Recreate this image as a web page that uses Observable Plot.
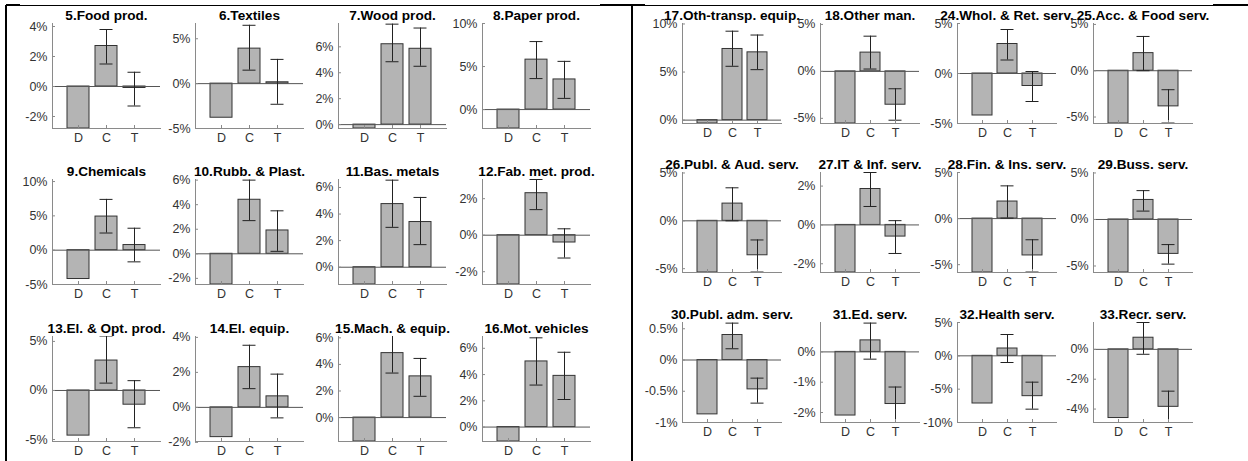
<!DOCTYPE html>
<html><head><meta charset="utf-8">
<script src="https://cdn.jsdelivr.net/npm/d3@7"></script>
<script src="https://cdn.jsdelivr.net/npm/@observablehq/plot@0.6"></script>
<style>
html,body{margin:0;padding:0;background:#fff;}
#root{position:relative;width:1248px;height:461px;overflow:hidden;font-family:"Liberation Sans",Arial,Helvetica,sans-serif;}
.cell{position:absolute;}
.border{position:absolute;background:#000;}
</style></head><body><div id="root"></div>
<script>
// ---------- data ----------
const titles = ["5.Food prod.","6.Textiles","7.Wood prod.","8.Paper prod.",
  "9.Chemicals","10.Rubb. & Plast.","11.Bas. metals","12.Fab. met. prod.",
  "13.El. & Opt. prod.","14.El. equip.","15.Mach. & equip.","16.Mot. vehicles",
  "17.Oth-transp. equip.","18.Other man.","24.Whol. & Ret. serv.","25.Acc. & Food serv.",
  "26.Publ. & Aud. serv.","27.IT & Inf. serv.","28.Fin. & Ins. serv.","29.Buss. serv.",
  "30.Publ. adm. serv.","31.Ed. serv.","32.Health serv.","33.Recr. serv."];
const categories = ["D","C","T"];
const valD = [-2.8,-3.8,-0.3,-2.2, -4.2,-2.5,-1.3,-2.7, -4.6,-1.7,-1.8,-1.1,
              -0.35,-5.55,-4.2,-5.7, -5.4,-2.45,-5.85,-5.7, -0.87,-2.1,-7.15,-4.6];
const valC = [2.7,3.9,6.2,5.8, 4.9,4.4,4.75,2.3, 3.05,2.3,4.85,5.0,
              7.4,2.0,2.95,1.9, 1.8,1.85,1.85,2.1, 0.4,0.38,1.1,0.78];
const loC  = [1.5,1.5,4.85,3.6, 2.5,2.7,3.0,1.4, 0.75,1.07,3.35,3.2,
              5.6,0.25,1.35,0.0, 0.0,0.95,0.05,0.9, 0.18,-0.24,-1.0,-0.33];
const hiC  = [3.8,6.5,7.75,7.9, 7.4,6.0,6.55,3.05, 5.55,3.55,6.2,6.8,
              9.25,3.75,4.4,3.7, 3.45,2.7,3.55,3.1, 0.59,0.95,3.2,1.8];
const valT = [-0.1,0.15,5.85,3.5, 0.75,1.9,3.4,-0.4, -1.45,0.63,3.1,3.9,
              7.05,-3.55,-1.25,-3.85, -3.6,-0.6,-4.0,-3.7, -0.47,-1.72,-6.05,-3.85];
const loT  = [-1.3,-2.3,4.5,1.3, -1.7,0.2,1.7,-1.25, -3.8,-0.6,1.6,2.1,
              5.25,-5.2,-2.8,-5.65, -5.35,-1.47,-5.8,-4.8, -0.69,-2.33,-8.0,-4.9];
const hiT  = [0.95,2.7,7.45,5.6, 3.2,3.5,5.25,0.35, 1.0,1.9,4.45,5.7,
              8.85,-1.85,0.2,-2.05, -2.0,0.22,-2.3,-2.7, -0.29,-1.16,-3.95,-2.8];
const yMin = [-2.8,-5,-0.3,-2.2, -5,-2.5,-1.3,-2.7, -5.2,-1.95,-1.8,-1.1,
              -0.35,-5.55,-5,-5.7, -5.4,-2.45,-5.85,-5.7, -1.0,-2.33,-10,-4.9];
const yMax = [4.2,6.7,7.8,10, 10.3,6.05,6.6,3.05, 5.5,4.05,6.1,6.9,
              10.05,5.1,5,5.1, 5.05,2.7,5,5.05, 0.6,0.97,5,1.8];
const yTicks = [[-2,0,2,4],[-5,0,5],[0,2,4,6],[0,5,10],
  [-5,0,5,10],[-2,0,2,4,6],[0,2,4,6],[-2,0,2],
  [-5,0,5],[-2,0,2,4],[0,2,4,6],[0,2,4,6],
  [0,5,10],[-5,0,5],[-5,0,5],[-5,0,5],
  [-5,0,5],[-2,0,2],[-5,0,5],[-5,0,5],
  [-1,-0.5,0,0.5],[-2,-1,0],[-10,-5,0,5],[-4,-2,0]];

// ---------- layout ----------
const leftCols = [52,195,338,482], rightCols = [682,820,957,1093];
const leftRows = [23,179,336], rightRows = [23,172,322];
const leftW = 108, leftH = 105, rightW = 99, rightH = 100;
const mL = 46, mR = 10, mT = 26, mB = 24;
const font = '"Liberation Sans", Arial, Helvetica, sans-serif';
const fmt = d => String(d) + "%";
const root = document.getElementById("root");

titles.forEach((title, i) => {
  const right = i >= 12, j = i % 12, r = Math.floor(j / 4), c = j % 4;
  const ax = right ? rightCols[c] : leftCols[c];
  const ay = right ? rightRows[r] : leftRows[r];
  const w = right ? rightW : leftW, h = right ? rightH : leftH;
  const capInset = right ? 3.5 : 4.5;
  const rows = categories.map((cat, n) => ({
    cat,
    value: [valD[i], valC[i], valT[i]][n],
    lo: [null, loC[i], loT[i]][n],
    hi: [null, hiC[i], hiT[i]][n]
  }));
  const err = rows.filter(d => d.lo != null);
  const chart = Plot.plot({
    width: mL + w + mR, height: mT + h + mB,
    marginLeft: mL, marginRight: mR, marginTop: mT, marginBottom: mB,
    style: {background: "transparent", overflow: "visible", fontFamily: font, fontSize: "12.5px", color: "#333"},
    x: {domain: categories, paddingInner: 0.2, paddingOuter: 0.52, label: null},
    y: {domain: [yMin[i], yMax[i]], label: null},
    marks: [
      Plot.barY(rows, {x: "cat", y: "value", fill: "#b4b4b4", stroke: "#333", strokeWidth: 1, clip: true}),
      Plot.ruleY([0], {stroke: "#555"}),
      Plot.ruleX(err, {x: "cat", y1: "lo", y2: "hi", stroke: "#222", clip: true}),
      Plot.tickY(err, {x: "cat", y: "lo", stroke: "#222", insetLeft: capInset, insetRight: capInset, clip: true}),
      Plot.tickY(err, {x: "cat", y: "hi", stroke: "#222", insetLeft: capInset, insetRight: capInset, clip: true}),
      Plot.frame({anchor: "left", stroke: "#8a8a8a"}),
      Plot.frame({anchor: "bottom", stroke: "#8a8a8a"}),
      Plot.axisY({ticks: yTicks[i], tickSize: 0, tickPadding: 5, tickFormat: fmt, fill: "#333", fontSize: 12.5, label: null}),
      Plot.axisY({ticks: yTicks[i], tickSize: 3, dx: 3, fill: "none", stroke: "#8a8a8a", label: null}),
      Plot.axisX({tickSize: 0, tickPadding: 5, fill: "#333", fontSize: 12.5, label: null}),
      Plot.axisX({tickSize: 3, dy: -3, fill: "none", stroke: "#8a8a8a", label: null}),
      Plot.text([title], {text: d => d, frameAnchor: "top", dy: -4, lineAnchor: "bottom",
        fontWeight: "bold", fontSize: 13.6, fill: "#000"})
    ]
  });
  const div = document.createElement("div");
  div.className = "cell";
  div.style.left = (ax - mL) + "px";
  div.style.top = (ay - mT) + "px";
  div.appendChild(chart);
  root.appendChild(div);
});

// table borders
[[6,5,1242,1],[6,4,14,2],[600,4,45,2],[1213,4,35,2],[5,5,2,456],[631,5,2,456]].forEach(([x,y,wd,ht]) => {
  const b = document.createElement("div");
  b.className = "border";
  Object.assign(b.style, {left: x + "px", top: y + "px", width: wd + "px", height: ht + "px"});
  root.appendChild(b);
});
</script></body></html>
